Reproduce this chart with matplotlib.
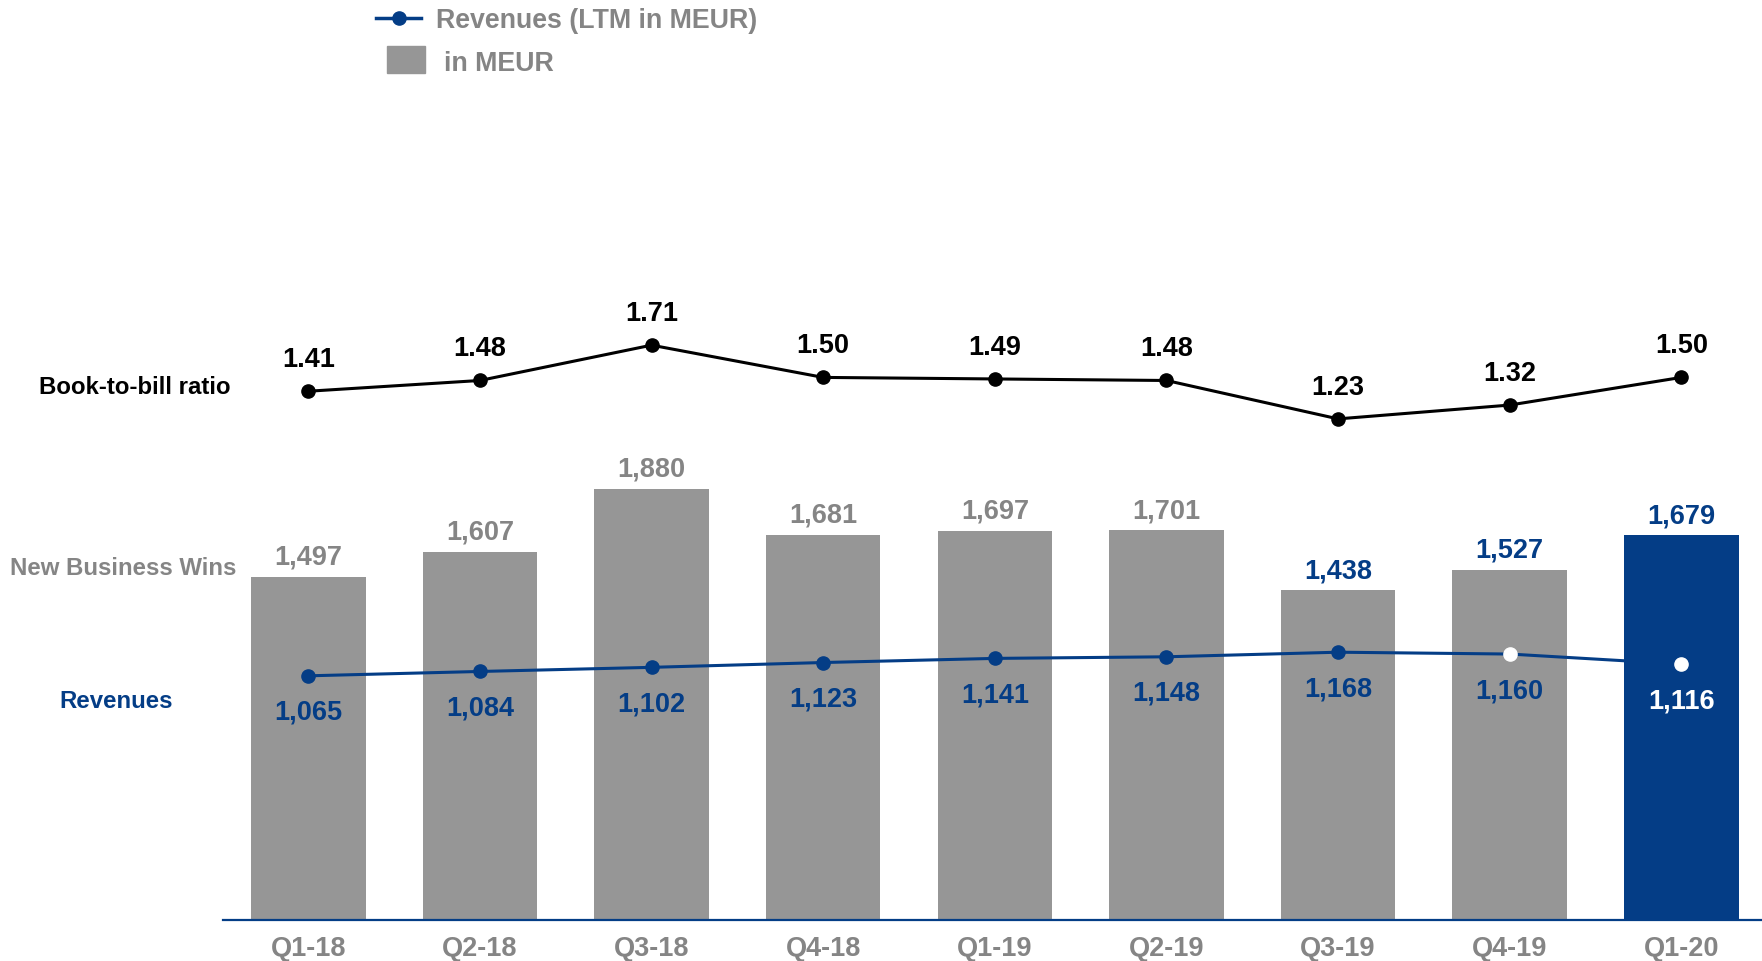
import numpy as np
import matplotlib
matplotlib.use("Agg")
import matplotlib.pyplot as plt
from matplotlib.lines import Line2D
from matplotlib.patches import Rectangle

plt.rcParams['font.family'] = ['Liberation Sans', 'DejaVu Sans']
plt.rcParams['font.weight'] = 'bold'

# quarterly figures
quarters = ["Q1-18", "Q2-18", "Q3-18", "Q4-18", "Q1-19", "Q2-19", "Q3-19", "Q4-19", "Q1-20"]
new_business = [1497, 1607, 1880, 1681, 1697, 1701, 1438, 1527, 1679]
revenues = [1065, 1084, 1102, 1123, 1141, 1148, 1168, 1160, 1116]
book_to_bill = [1.41, 1.48, 1.71, 1.50, 1.49, 1.48, 1.23, 1.32, 1.50]

BLUE = "#043d86"
BAR_GRAY = "#969696"
TEXT_GRAY = "#858585"
LABEL_FS = 19.5

W, H = 1762, 962
fig = plt.figure(figsize=(W / 100, H / 100), dpi=100)

# main axes: bars + revenue line (pixel layout converted to fractions)
left, bottom = 222.5 / W, 41 / H
ax = fig.add_axes([left, bottom, 1 - left, 1 - bottom])
x = np.arange(len(quarters))

bar_colors = [BAR_GRAY] * (len(quarters) - 1) + [BLUE]
ax.bar(x, new_business, width=0.667, color=bar_colors, zorder=1)
ax.set_xlim(-0.5, 8.47)
ax.set_ylim(0, 4017)

# bar value labels, last three in blue
for i, v in enumerate(new_business):
    c = TEXT_GRAY if i < 6 else BLUE
    ax.annotate(f"{v:,}", (x[i], v), xytext=(0, 20), textcoords="offset pixels",
                ha="center", va="center", fontsize=LABEL_FS, color=c, fontweight="bold")

# revenues (LTM)
ax.plot(x, revenues, color=BLUE, lw=2.2, zorder=2)
face = [BLUE] * 7 + ["white", "white"]
for i, v in enumerate(revenues):
    ax.plot(x[i], v, "o", ms=9.5, color=face[i], mec=face[i], zorder=3)
    c = "white" if i == len(revenues) - 1 else BLUE
    ax.annotate(f"{v:,}", (x[i], v), xytext=(0, -36), textcoords="offset pixels",
                ha="center", va="center", fontsize=LABEL_FS, color=c, fontweight="bold")

ax.set_xticks(x)
ax.set_xticklabels(quarters, fontsize=LABEL_FS, color=TEXT_GRAY, fontweight="bold")
ax.tick_params(axis="x", length=0, pad=11)
ax.set_yticks([])
for s in ["top", "right", "left"]:
    ax.spines[s].set_visible(False)
ax.spines["bottom"].set_color(BLUE)
ax.spines["bottom"].set_linewidth(1.6)

# book-to-bill ratio on its own scale
ax2 = ax.twinx()
ax2.set_ylim(-2.033, 3.964)
ax2.plot(x, book_to_bill, color="black", lw=2.2, marker="o", ms=9.5)
for i, v in enumerate(book_to_bill):
    ax2.annotate(f"{v:.2f}", (x[i], v), xytext=(0, 32), textcoords="offset pixels",
                 ha="center", va="center", fontsize=LABEL_FS, color="black", fontweight="bold")
ax2.set_yticks([])
for s in ["top", "right", "left", "bottom"]:
    ax2.spines[s].set_visible(False)

# row labels on the left
fig.text(135 / W, 1 - 388 / H, "Book-to-bill ratio", ha="center", va="center",
         fontsize=17.3, color="black", fontweight="bold")
fig.text(123.6 / W, 1 - 568.6 / H, "New Business Wins", ha="center", va="center",
         fontsize=17.3, color=TEXT_GRAY, fontweight="bold")
fig.text(116 / W, 1 - 701 / H, "Revenues", ha="center", va="center",
         fontsize=17.3, color=BLUE, fontweight="bold")

# legend drawn by hand at the top
fig.add_artist(Line2D([376 / W, 421 / W], [1 - 19 / H, 1 - 19 / H], color=BLUE, lw=2.5,
                      transform=fig.transFigure))
fig.add_artist(Line2D([398.5 / W], [1 - 19 / H], marker="o", ms=9.5, color=BLUE,
                      transform=fig.transFigure))
fig.text(436 / W, 1 - 21 / H, "Revenues (LTM in MEUR)", ha="left", va="center",
         fontsize=19.3, color=TEXT_GRAY, fontweight="bold")
fig.add_artist(Rectangle((386.5 / W, 1 - 74 / H), 38.5 / W, 27 / H, color=BAR_GRAY,
                         transform=fig.transFigure))
fig.text(444 / W, 1 - 64 / H, "in MEUR", ha="left", va="center",
         fontsize=19.3, color=TEXT_GRAY, fontweight="bold")

fig.savefig("out.png", dpi=100)
